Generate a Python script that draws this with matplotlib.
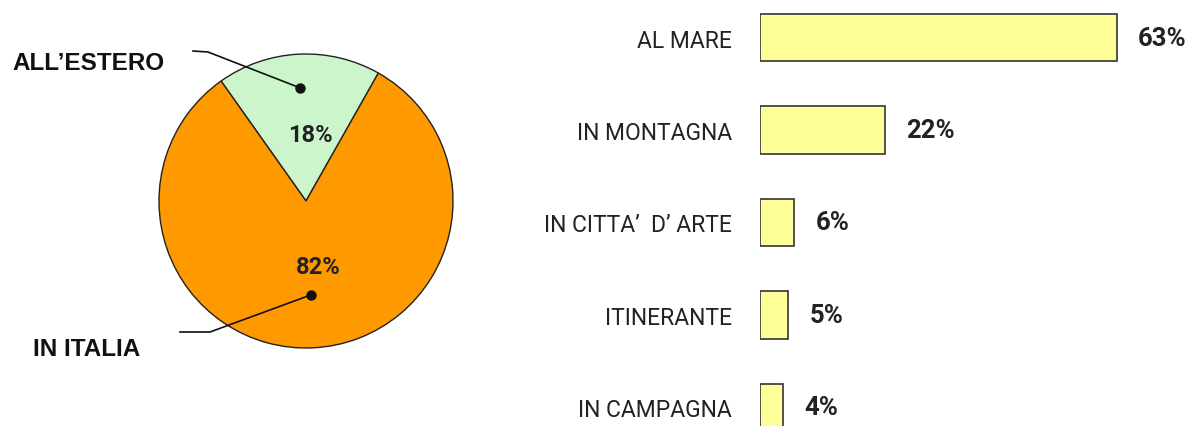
import numpy as np
import matplotlib
matplotlib.use("Agg")
import matplotlib.pyplot as plt

# pie data
pie_labels = ["ALL\u2019ESTERO", "IN ITALIA"]
pie_values = [18, 82]
pie_colors = ["#ccf5cc", "#ff9900"]

# bar data
bar_labels = ["AL MARE", "IN MONTAGNA", "IN CITTA\u2019  D\u2019 ARTE", "ITINERANTE", "IN CAMPAGNA"]
bar_values = [63, 22, 6, 5, 4]

W, H = 1187, 427
fig = plt.figure(figsize=(W / 100, H / 100), dpi=100)

# pie axes in pixel units (y up)
ax = fig.add_axes([0, 0, 1, 1])
cx, cy, r = 306, H - 202, 147
wedges, texts, autotexts = ax.pie(
    pie_values, colors=pie_colors, startangle=60.5, center=(cx, cy), radius=r,
    autopct="%d%%", pctdistance=0.46,
    wedgeprops=dict(edgecolor="#222222", linewidth=1.0),
    textprops=dict(family="Roboto", fontsize=17, fontweight="bold", color="#222222"),
    frame=True)
ax.set_xlim(0, W)
ax.set_ylim(0, H)
ax.axis("off")
autotexts[0].set_position((cx + 4, cy + 66))
autotexts[1].set_position((cx + 12, cy - 66))

# leader lines with dots
lab_font = dict(family="Liberation Sans", fontsize=17.5, fontweight="bold", color="#111111")
w0, w1 = wedges
t0 = np.deg2rad((w0.theta1 + w0.theta2) / 2)
d0 = (cx + 0.77 * r * np.cos(t0), cy + 0.77 * r * np.sin(t0))
ax.plot([193, 208, d0[0]], [H - 52, H - 53, d0[1]], color="#111111", lw=1.2)
ax.plot(*d0, "o", color="#111111", ms=6.5)
ax.text(165, H - 64, pie_labels[0], ha="right", va="center", **lab_font)

t1 = np.deg2rad((w1.theta1 + w1.theta2) / 2)
d1 = (cx + 0.64 * r * np.cos(t1), cy + 0.64 * r * np.sin(t1))
ax.plot([180, 210, d1[0]], [H - 333, H - 333, d1[1]], color="#111111", lw=1.2)
ax.plot(*d1, "o", color="#111111", ms=6.5)
ax.text(33, H - 350, pie_labels[1], ha="left", va="center", **lab_font)

# bar axes
x0 = 760
px_per = 5.66
bx = fig.add_axes([x0 / W, 0, 70 * px_per / W, 1])
y = np.arange(len(bar_values))
bx.barh(y, bar_values, height=0.51, color="#ffff99", edgecolor="#333333", linewidth=1.2)
bx.set_xlim(0, 70)
bx.set_ylim((H - 38.5) / 92.5, -38.5 / 92.5)
bx.set_yticks(y)
bx.set_yticklabels(bar_labels, family="Roboto", fontsize=16.5, color="#222222")
bx.tick_params(axis="y", length=0, pad=20)
bx.set_xticks([])
for s in bx.spines.values():
    s.set_visible(False)
bx.patch.set_alpha(0)
for yi, v in zip(y, bar_values):
    bx.annotate(f"{v}%", (v, yi), xytext=(15.5, 0), textcoords="offset points",
                ha="left", va="center", family="Roboto", fontsize=18.5,
                fontweight="bold", color="#222222", annotation_clip=False)

fig.savefig("out.png", dpi=100)
